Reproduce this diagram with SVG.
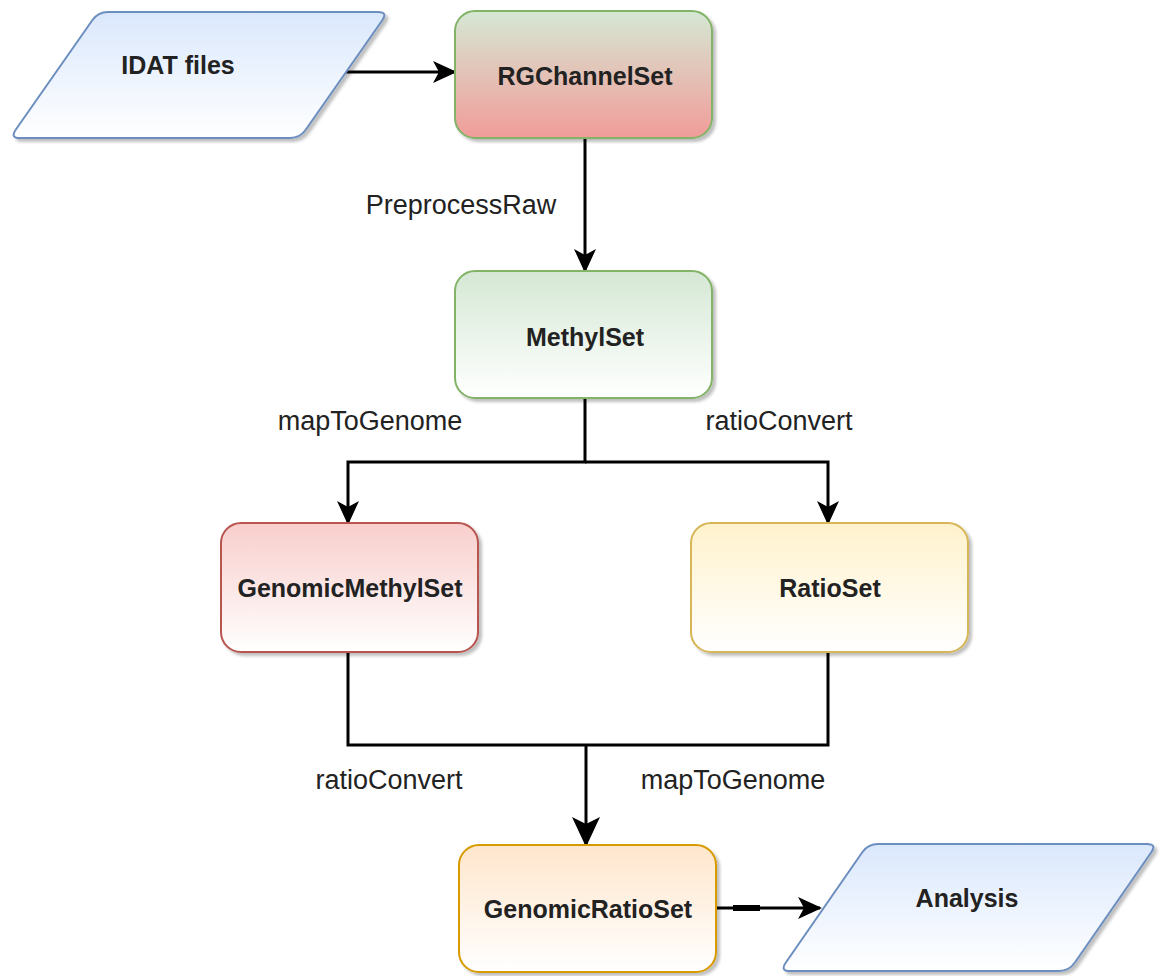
<svg xmlns="http://www.w3.org/2000/svg" width="1163" height="976" viewBox="0 0 1163 976">
<defs>
<linearGradient id="gBlue" x1="0" y1="0" x2="0" y2="1"><stop offset="0" stop-color="#dae8fc"/><stop offset="1" stop-color="#ffffff"/></linearGradient>
<linearGradient id="gGreenRed" x1="0" y1="0" x2="0" y2="1"><stop offset="0" stop-color="#d5e8d4"/><stop offset="1" stop-color="#f19c99"/></linearGradient>
<linearGradient id="gGreen" x1="0" y1="0" x2="0" y2="1"><stop offset="0" stop-color="#d5e8d4"/><stop offset="1" stop-color="#ffffff"/></linearGradient>
<linearGradient id="gRed" x1="0" y1="0" x2="0" y2="1"><stop offset="0" stop-color="#f8cecc"/><stop offset="1" stop-color="#ffffff"/></linearGradient>
<linearGradient id="gYellow" x1="0" y1="0" x2="0" y2="1"><stop offset="0" stop-color="#fff2cc"/><stop offset="1" stop-color="#ffffff"/></linearGradient>
<linearGradient id="gOrange" x1="0" y1="0" x2="0" y2="1"><stop offset="0" stop-color="#ffe6cc"/><stop offset="1" stop-color="#ffffff"/></linearGradient>
<filter id="shadow" x="-10%" y="-10%" width="130%" height="130%"><feDropShadow dx="3" dy="3" stdDeviation="1.5" flood-color="#000" flood-opacity="0.25"/></filter>
<marker id="arr" viewBox="0 0 24 22" refX="22" refY="11" markerWidth="24" markerHeight="22" markerUnits="userSpaceOnUse" orient="auto"><path d="M0,0 L24,11 L0,22 L6,11 Z" fill="#000"/></marker>
<marker id="arrBig" viewBox="0 0 30 28" refX="28" refY="14" markerWidth="30" markerHeight="28" markerUnits="userSpaceOnUse" orient="auto"><path d="M0,0 L30,14 L0,28 L7,14 Z" fill="#000"/></marker>
</defs>
<style>
.node{filter:url(#shadow);stroke-width:2}
.nt{font-family:"Liberation Sans",Arial,sans-serif;font-size:25px;font-weight:bold;fill:#222;text-anchor:middle}
.lbl{font-family:"Liberation Sans",Arial,sans-serif;font-size:27px;fill:#222;text-anchor:middle}
.edge{fill:none;stroke:#000;stroke-width:3}
</style>
<rect width="1163" height="976" fill="#ffffff"/>
<g id="connectors">
<line class="edge" x1="346" y1="72" x2="455" y2="72" marker-end="url(#arr)"/>
<line class="edge" x1="585" y1="138" x2="585" y2="271" marker-end="url(#arr)"/>
<polyline class="edge" points="585,398 585,462 348,462 348,523" marker-end="url(#arr)"/>
<polyline class="edge" points="585,462 828,462 828,523" marker-end="url(#arr)"/>
<polyline class="edge" points="348,652 348,745 828,745 828,652"/>
<line class="edge" x1="586" y1="745" x2="586" y2="845" stroke-width="5" marker-end="url(#arrBig)"/>
<line class="edge" x1="716" y1="908" x2="820" y2="908" marker-end="url(#arr)"/>
<line x1="733" y1="908" x2="760" y2="908" stroke="#000" stroke-width="6"/>
<text class="lbl" x="461" y="214">PreprocessRaw</text>
<text class="lbl" x="370" y="430">mapToGenome</text>
<text class="lbl" x="779" y="430">ratioConvert</text>
<text class="lbl" x="389" y="789">ratioConvert</text>
<text class="lbl" x="733" y="789">mapToGenome</text>
</g>
<g id="idat">
<path class="node" d="M108,12 L378,12 Q388,12 382.3,20.2 L305.7,129.8 Q300,138 290,138 L20,138 Q10,138 15.7,129.8 L92.3,20.2 Q98,12 108,12 Z" fill="url(#gBlue)" stroke="#6c8ebf"/>
<text class="nt" x="178" y="74">IDAT files</text>
</g>
<g id="rgchannelset">
<rect class="node" x="455" y="11" width="257" height="127" rx="20" fill="url(#gGreenRed)" stroke="#82b366"/>
<text class="nt" x="585" y="85">RGChannelSet</text>
</g>
<g id="methylset">
<rect class="node" x="455" y="271" width="257" height="127" rx="20" fill="url(#gGreen)" stroke="#82b366"/>
<text class="nt" x="585" y="346">MethylSet</text>
</g>
<g id="genomicmethylset">
<rect class="node" x="221" y="523" width="257" height="129" rx="20" fill="url(#gRed)" stroke="#b85450"/>
<text class="nt" x="350" y="597">GenomicMethylSet</text>
</g>
<g id="ratioset">
<rect class="node" x="691" y="523" width="277" height="129" rx="20" fill="url(#gYellow)" stroke="#d6b656"/>
<text class="nt" x="830" y="597">RatioSet</text>
</g>
<g id="genomicratioset">
<rect class="node" x="459" y="845" width="257" height="127" rx="20" fill="url(#gOrange)" stroke="#d79b00"/>
<text class="nt" x="588" y="918">GenomicRatioSet</text>
</g>
<g id="analysis">
<path class="node" d="M878,844 L1147,844 Q1157,844 1151.3,852.2 L1074.7,962.8 Q1069,971 1059,971 L790,971 Q780,971 785.7,962.8 L862.3,852.2 Q868,844 878,844 Z" fill="url(#gBlue)" stroke="#6c8ebf"/>
<text class="nt" x="967" y="907">Analysis</text>
</g>
</svg>
